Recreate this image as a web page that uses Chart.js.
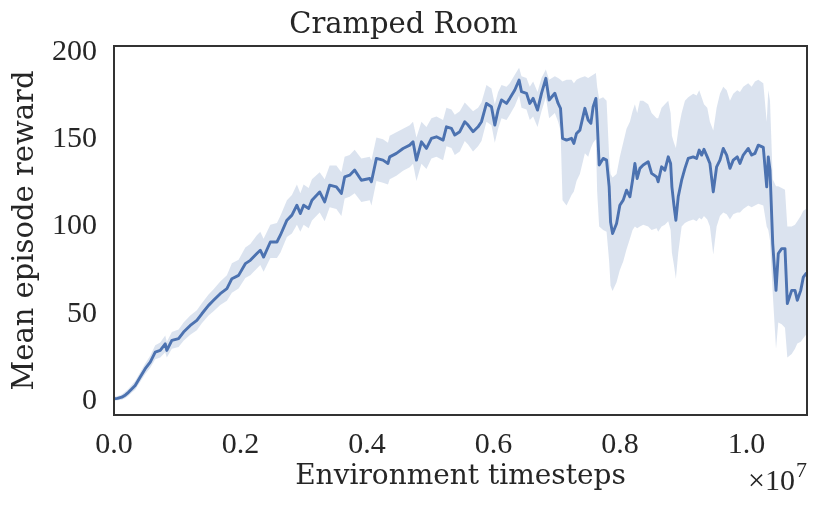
<!DOCTYPE html>
<html><head><meta charset="utf-8">
<script src="https://cdn.jsdelivr.net/npm/chart.js@4.4.1/dist/chart.umd.min.js"></script>
<style>html,body{margin:0;padding:0;background:#fff;} canvas{display:block;}</style>
</head><body>
<canvas id="c" width="830" height="516"></canvas>
<script>
// Environment timesteps in units of 1e7
const STEPS_E7 = [
0,0.0055,0.0123,0.0182,0.0229,0.0277,0.0335,0.0415,0.0494,0.0573,
0.0652,0.0731,0.0810,0.0835,0.0915,0.1021,0.1100,0.1206,0.1310,0.1389,
0.1495,0.1574,0.1680,0.1785,0.1864,0.1970,0.2076,0.2155,0.2259,0.2313,
0.2365,0.2472,0.2576,0.2630,0.2734,0.2813,0.2892,0.2946,0.2998,0.3078,
0.3130,0.3252,0.3331,0.3410,0.3516,0.3595,0.3647,0.3726,0.3805,0.3911,
0.4043,0.4070,0.4149,0.4253,0.4332,0.4359,0.4465,0.4570,0.4676,0.4728,
0.4782,0.4861,0.4940,0.5019,0.5098,0.5203,0.5256,0.5335,0.5388,0.5467,
0.5546,0.5598,0.5677,0.5756,0.5810,0.5889,0.5968,0.6021,0.6073,0.6127,
0.6206,0.6258,0.6337,0.6405,0.6443,0.6522,0.6574,0.6627,0.6696,0.6759,
0.6828,0.6880,0.6970,0.7022,0.7060,0.7092,0.7155,0.7234,0.7271,0.7313,
0.7366,0.7445,0.7497,0.7540,0.7576,0.7619,0.7639,0.7671,0.7734,0.7788,
0.7829,0.7851,0.7883,0.7946,0.7998,0.8051,0.8104,0.8157,0.8199,0.8236,
0.8272,0.8315,0.8367,0.8446,0.8500,0.8579,0.8604,0.8658,0.8710,0.8763,
0.8801,0.8821,0.8853,0.8884,0.8921,0.8975,0.9027,0.9079,0.9158,0.9212,
0.9253,0.9291,0.9328,0.9380,0.9422,0.9475,0.9528,0.9581,0.9633,0.9687,
0.9739,0.9791,0.9854,0.9897,0.9949,1.0028,1.0082,1.0134,1.0187,1.0266,
1.0320,1.0345,1.0372,1.0415,1.0467,1.0503,1.0557,1.0609,1.0646,1.0715,
1.0767,1.0804,1.0858,1.0899,1.0941,1.0957
];
const MEAN = [
1.3,1.5,2.2,3.5,5,6.8,8.9,13.7,18.5,22.3,
28,29,32.8,29,34.7,35.7,39.5,43.3,46.2,50,
54.8,57.7,61.5,64.4,70.1,72,78.7,80.6,84.5,86.4,
82.5,91.1,91.1,95,103.6,106.5,112.2,107.4,112.2,110.3,
115,119.8,114.1,123.7,122.7,118.9,128.4,129.4,132.3,126.5,
127.5,125.6,139,138,136.1,139.9,141.9,144.7,146.6,148.5,
138,148.5,144.7,150.5,151.4,149.5,157.1,156.2,152.4,154.3,
160,158.1,154.3,157.1,160,170.5,168.6,158.1,166.7,172.5,
170.5,173.4,178.2,183.9,177.2,176.3,170.5,173.4,166.7,176.3,
184.9,172.5,176.3,170.5,167.7,150.5,149.5,150.5,147.6,153.3,
155.2,167.7,161,159.1,168.6,173.4,161,135.2,139,138,
122.7,102.6,96,101.7,112.2,115.1,120.8,117,126.5,136.1,
127.5,133.3,135.2,137.1,130.4,128.4,125.6,134.2,132.3,139.9,
136.1,122.7,112.2,103.6,117,126.5,133.3,139,139.9,139,
143.8,140.9,144.2,139.9,136.1,119.8,134.2,138,144.7,140.9,
133.3,138,139.9,136.1,140.9,144.7,140.9,141.9,146.6,145.3,
122.7,139.9,132.3,90.2,63.4,84.5,87.3,87.3,55.8,63.4,
63.4,57.7,63.4,71,73,73.5
];
const UPPER = [
2.5,2.8,3.8,5.5,7,9,11.5,16.5,21.5,26,
32,33.5,37.5,34,39.5,41,45,49,52,56,
61,64,68.5,72,79,81,88,90,95,97,
93,101,102,106,115,118,124,119,124,122,
127,131,127,135,135,131,140,141,144,139,
140,138,151,150,148,152,154,156,158,160,
151,160,157,162,163,161,168,167,164,166,
171,169,166,168,171,181,179,170,177,181,
180,182,187,191,186,185,180,183,177,185,
190,184,186,185,184,183,184,184,182,184,
185,186,185,186,187,188,180,173,174,172,
140,130,128,130,140,148,156,160,166,170,
165,172,172,170,165,162,162,168,170,172,
165,152,148,145,155,165,172,174,176,175,
178,174,170,168,160,155,168,176,180,178,
172,176,178,177,180,182,180,183,184,182,
160,178,172,127,123,123,122,121,100,100,
101,103,106,109,110,111
];
const LOWER = [
0.3,0.5,0.8,1.8,3,4.8,6.5,11,15.5,19,
24,25,28,25,30,31,34.5,38,40.5,44.5,
49,51.5,55,57.5,62,64.5,70.5,72,76,78,
74,82,82,85,94,96,101,97,101,99,
103.5,108,103,111,110,106,116,117,119,114,
115,112,126,125,124,127,129,132,134,136,
126,136,133,139,140,138,146,145,141,143,
149,147,143,146,149,160,158,148,156,162,
161,164,169,175,168,167,161,163,157,166,
174,162,165,160,155,115,112,118,120,126,
130,142,140,145,148,150,120,100,98,97,
80,66,63,68,75,80,87,93,98,100,
99,100,101,100,98,99,97,100,101,103,
98,85,78,70,85,100,102,103,104,103,
105,104,106,104,100,84,100,106,108,107,
104,107,108,108,110,112,111,112,113,112,
100,98,92,62,30,45,44,42,25,27,
30,33,34,36,38,38
];
const X_TICKS = [0, 0.2, 0.4, 0.6, 0.8, 1.0];
const Y_TICKS = [0, 50, 100, 150, 200];
const TITLE = 'Cramped Room';
const X_LABEL = 'Environment timesteps';
const Y_LABEL = 'Mean episode reward';

const TXT = '#262626';
const LINE = '#4c72b0';
const BAND = 'rgba(76,114,176,0.2)';
const pts = arr => STEPS_E7.map((x, i) => ({x: x, y: arr[i]}));

const frame = {
  id: 'frame',
  afterDraw(chart) {
    const {ctx, chartArea: a} = chart;
    ctx.save();
    ctx.strokeStyle = '#333333';
    ctx.lineWidth = 2;
    ctx.strokeRect(a.left, a.top, a.right - a.left, a.bottom - a.top);
    ctx.fillStyle = TXT;
    ctx.textAlign = 'right';
    ctx.textBaseline = 'alphabetic';
    ctx.font = '22px "Liberation Serif"';
    ctx.fillText('7', a.right, a.bottom + 62);
    ctx.font = '30px "Liberation Serif"';
    ctx.fillText('\u00d710', a.right - 12, a.bottom + 75);
    ctx.restore();
  }
};

new Chart(document.getElementById('c'), {
  type: 'line',
  data: {
    datasets: [
      {label: 'mean', data: pts(MEAN), borderColor: LINE, borderWidth: 2.9, pointRadius: 0,
       fill: false, tension: 0, borderJoinStyle: 'round', borderCapStyle: 'round', order: 0},
      {label: 'upper', data: pts(UPPER), borderWidth: 0, borderColor: 'rgba(0,0,0,0)', pointRadius: 0,
       backgroundColor: BAND, fill: '+1', tension: 0, order: 1},
      {label: 'lower', data: pts(LOWER), borderWidth: 0, borderColor: 'rgba(0,0,0,0)', pointRadius: 0,
       fill: false, tension: 0, order: 2}
    ]
  },
  options: {
    responsive: false,
    animation: false,
    layout: {padding: {left: 0, right: 23, top: 0, bottom: 0}},
    plugins: {
      legend: {display: false},
      tooltip: {enabled: false},
      title: {display: true, text: TITLE, color: TXT,
        font: {family: 'DejaVu Serif', size: 29, weight: 'normal'},
        padding: {top: 8.5, bottom: 2.7}}
    },
    scales: {
      x: {
        type: 'linear', min: 0, max: STEPS_E7[STEPS_E7.length - 1],
        grid: {display: false, drawTicks: false},
        border: {display: false},
        afterBuildTicks: s => { s.ticks = X_TICKS.map(v => ({value: v})); },
        afterFit: s => { s.height = 101; },
        ticks: {autoSkip: false, maxRotation: 0, padding: 12, color: TXT,
          font: {family: 'Liberation Serif', size: 30},
          callback: v => Number(v).toFixed(1)},
        title: {display: true, text: X_LABEL, color: TXT,
          font: {family: 'DejaVu Serif', size: 28}, padding: {top: 0, bottom: 22}}
      },
      y: {
        type: 'linear', min: -8, max: 203.4,
        grid: {display: false, drawTicks: false},
        border: {display: false},
        afterBuildTicks: s => { s.ticks = Y_TICKS.map(v => ({value: v})); },
        afterFit: s => { s.width = 114; },
        ticks: {autoSkip: false, padding: 17, color: TXT,
          font: {family: 'Liberation Serif', size: 30},
          callback: v => String(v)},
        title: {display: true, text: Y_LABEL, color: TXT,
          font: {family: 'DejaVu Serif', size: 29}, padding: {top: 8, bottom: 0}}
      }
    }
  },
  plugins: [frame]
});
</script>
</body></html>
